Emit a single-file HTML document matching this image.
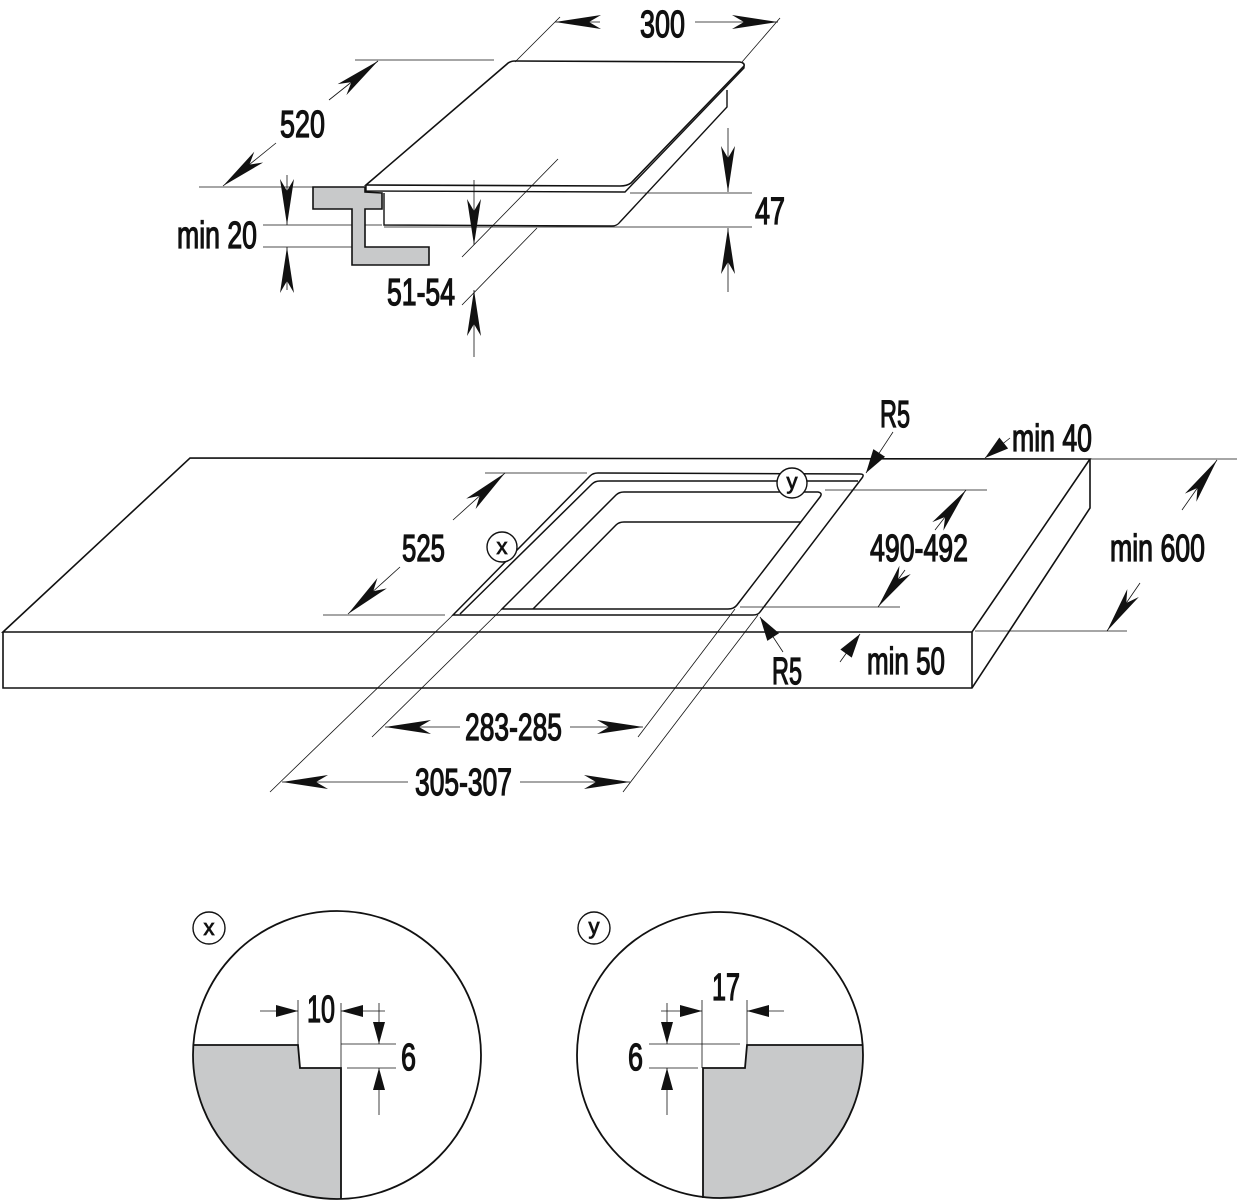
<!DOCTYPE html>
<html><head><meta charset="utf-8"><style>
html,body{margin:0;padding:0;background:#fff;}
svg{display:block;}
text{font-family:"Liberation Sans Narrow","Liberation Sans",sans-serif;fill:#111;stroke:#111;stroke-width:1.3;}
</style></head><body>
<svg width="1237" height="1200" viewBox="0 0 1237 1200" xmlns="http://www.w3.org/2000/svg">
<defs>
<marker id="a" markerUnits="userSpaceOnUse" markerWidth="60" markerHeight="24" viewBox="-50 -12 60 24" refX="0" refY="0" orient="auto">
<path d="M0,0 L-46,-7 L-34,0 L-46,7 Z" fill="#111"/>
</marker>
<marker id="m" markerUnits="userSpaceOnUse" markerWidth="40" markerHeight="24" viewBox="-30 -12 40 24" refX="0" refY="0" orient="auto">
<path d="M0,0 L-24,-7 L-24,7 Z" fill="#111"/>
</marker>
<marker id="s" markerUnits="userSpaceOnUse" markerWidth="40" markerHeight="20" viewBox="-30 -10 40 20" refX="0" refY="0" orient="auto">
<path d="M0,0 L-22,-6 L-22,6 Z" fill="#111"/>
</marker>
</defs>
<g fill="none" stroke="#111" stroke-width="1">
<path d="M366,185 L507,64 Q510,61 515,61 L740,62 Q745,63 744,66 L631,183 Q627,186 620,186 Z" stroke-width="1.6"/>
<path d="M366,185 L366,191 L625,192 L744,68 L744,66" stroke-width="1.4"/>
<path d="M384,193 L384,225 L612,226 Q617,226 620,222 L727,107 L727,90" stroke-width="1.4"/>
<line x1="515" y1="62" x2="560" y2="17" stroke-width="0.8"/>
<line x1="742" y1="62" x2="780" y2="18" stroke-width="0.8"/>
<line x1="355" y1="60" x2="494" y2="60" stroke-width="0.8"/>
<line x1="199" y1="187" x2="365" y2="187" stroke-width="0.8"/>
<line x1="630" y1="193" x2="752" y2="193" stroke-width="0.8"/>
<line x1="384" y1="227" x2="752" y2="227" stroke-width="0.8"/>
<line x1="263" y1="225" x2="382" y2="225" stroke-width="0.8"/>
<line x1="263" y1="247" x2="352" y2="247" stroke-width="0.8"/>
<line x1="462" y1="257" x2="558" y2="159" stroke-width="0.8"/>
<line x1="462" y1="305" x2="537" y2="228" stroke-width="0.8"/>
<path d="M313,187 L365,187 L365,192 L382,193 L382,209 L365,209 L365,247 L429,247 L429,265 L352,265 L352,209 L313,209 Z" fill="#c8c9ca" stroke-width="1.6"/>
<line x1="600" y1="22" x2="555" y2="22" marker-end="url(#a)" stroke-width="0.8"/>
<line x1="695" y1="22" x2="778" y2="22" marker-end="url(#a)" stroke-width="0.8"/>
<line x1="329" y1="100" x2="378" y2="61" marker-end="url(#a)" stroke-width="0.8"/>
<line x1="276" y1="143" x2="223" y2="186" marker-end="url(#a)" stroke-width="0.8"/>
<line x1="287" y1="175" x2="287" y2="225" marker-end="url(#a)" stroke-width="0.8"/>
<line x1="287" y1="290" x2="287" y2="247" marker-end="url(#a)" stroke-width="0.8"/>
<line x1="728" y1="128" x2="728" y2="192" marker-end="url(#a)" stroke-width="0.8"/>
<line x1="728" y1="292" x2="728" y2="228" marker-end="url(#a)" stroke-width="0.8"/>
<line x1="474" y1="180" x2="474" y2="245" marker-end="url(#a)" stroke-width="0.8"/>
<line x1="474" y1="357" x2="474" y2="290" marker-end="url(#a)" stroke-width="0.8"/>

<path d="M190,458 L1090,459 L972,632 L3,632 Z" stroke-width="1.6"/>
<path d="M3,632 L3,688 L972,688 L1090,508 L1090,459" stroke-width="1.6"/>
<line x1="972" y1="632" x2="972" y2="688" stroke-width="1.6"/>
<path d="M453,615 L590,476 Q593,473 598,473 L860,474 Q865,474 862,478 L760,612 Q758,615 753,615 Z" stroke-width="1.5"/>
<path d="M460,614 L592,484 Q595,481 600,481 L858,481" stroke-width="1.5"/>
<path d="M502,609 L616,495 Q619,492 624,492 L818,492 Q823,493 820,497 L737,605 Q734,609 728,609 Z" stroke-width="1.5"/>
<path d="M533,609 L616,525 Q619,522 624,522 L801,522" stroke-width="1.5"/>
<line x1="485" y1="473" x2="587" y2="473" stroke-width="0.8"/>
<line x1="323" y1="615" x2="445" y2="615" stroke-width="0.8"/>
<line x1="825" y1="490" x2="987" y2="490" stroke-width="0.8"/>
<line x1="740" y1="607" x2="900" y2="607" stroke-width="0.8"/>
<line x1="1090" y1="459" x2="1237" y2="459" stroke-width="0.8"/>
<line x1="975" y1="631" x2="1127" y2="631" stroke-width="0.8"/>
<line x1="453" y1="615" x2="270" y2="792" stroke-width="0.8"/>
<line x1="502" y1="609" x2="372" y2="737" stroke-width="0.8"/>
<line x1="735" y1="609" x2="638" y2="737" stroke-width="0.8"/>
<line x1="758" y1="615" x2="623" y2="792" stroke-width="0.8"/>
<line x1="453" y1="520" x2="505" y2="473" marker-end="url(#a)" stroke-width="0.8"/>
<line x1="400" y1="567" x2="348" y2="614" marker-end="url(#a)" stroke-width="0.8"/>
<line x1="935" y1="530" x2="966" y2="490" marker-end="url(#a)" stroke-width="0.8"/>
<line x1="905" y1="570" x2="878" y2="607" marker-end="url(#a)" stroke-width="0.8"/>
<line x1="1182" y1="510" x2="1217" y2="460" marker-end="url(#a)" stroke-width="0.8"/>
<line x1="1140" y1="583" x2="1107" y2="631" marker-end="url(#a)" stroke-width="0.8"/>
<line x1="1010" y1="438" x2="985" y2="458" marker-end="url(#m)" stroke-width="0.8"/>
<line x1="893" y1="432" x2="866" y2="473" marker-end="url(#m)" stroke-width="0.8"/>
<line x1="783" y1="652" x2="760" y2="617" marker-end="url(#m)" stroke-width="0.8"/>
<line x1="840" y1="662" x2="860" y2="634" marker-end="url(#m)" stroke-width="0.8"/>
<line x1="460" y1="727" x2="385" y2="727" marker-end="url(#a)" stroke-width="0.8"/>
<line x1="570" y1="727" x2="643" y2="727" marker-end="url(#a)" stroke-width="0.8"/>
<line x1="408" y1="782" x2="282" y2="782" marker-end="url(#a)" stroke-width="0.8"/>
<line x1="520" y1="782" x2="630" y2="782" marker-end="url(#a)" stroke-width="0.8"/>
<circle cx="502" cy="547" r="15" fill="#fff" stroke-width="1.4"/>
<circle cx="792" cy="483" r="15" fill="#fff" stroke-width="1.4"/>

<path d="M194,1045 L298,1045 L300,1068 L341,1068 L341,1199 A144,144 0 0 1 194,1045 Z" fill="#c8c9ca" stroke="none"/>
<circle cx="337" cy="1055" r="144" stroke-width="1.8"/>
<path d="M194,1045 L298,1045 L300,1068 L341,1068 L341,1199" stroke-width="1.8"/>
<line x1="298" y1="1000" x2="298" y2="1045" stroke-width="0.8"/>
<line x1="341" y1="1003" x2="341" y2="1068" stroke-width="0.8"/>
<line x1="341" y1="1044" x2="396" y2="1044" stroke-width="0.8"/>
<line x1="347" y1="1068" x2="396" y2="1068" stroke-width="0.8"/>
<line x1="260" y1="1011" x2="298" y2="1011" marker-end="url(#s)" stroke-width="0.8"/>
<line x1="385" y1="1011" x2="341" y2="1011" marker-end="url(#s)" stroke-width="0.8"/>
<line x1="379" y1="1003" x2="379" y2="1044" marker-end="url(#s)" stroke-width="0.8"/>
<line x1="379" y1="1115" x2="379" y2="1068" marker-end="url(#s)" stroke-width="0.8"/>
<circle cx="209" cy="928" r="16" stroke-width="1.4"/>

<path d="M747,1045 L863,1045 A143,143 0 0 1 703,1198 L703,1068 L745,1068 Z" fill="#c8c9ca" stroke="none"/>
<circle cx="720" cy="1055" r="143" stroke-width="1.8"/>
<path d="M863,1045 L747,1045 L745,1068 L703,1068 L703,1198" stroke-width="1.8"/>
<line x1="702" y1="1000" x2="702" y2="1068" stroke-width="0.8"/>
<line x1="747" y1="1000" x2="747" y2="1045" stroke-width="0.8"/>
<line x1="649" y1="1044" x2="740" y2="1044" stroke-width="0.8"/>
<line x1="649" y1="1068" x2="698" y2="1068" stroke-width="0.8"/>
<line x1="661" y1="1011" x2="702" y2="1011" marker-end="url(#s)" stroke-width="0.8"/>
<line x1="784" y1="1011" x2="747" y2="1011" marker-end="url(#s)" stroke-width="0.8"/>
<line x1="667" y1="1003" x2="667" y2="1044" marker-end="url(#s)" stroke-width="0.8"/>
<line x1="667" y1="1115" x2="667" y2="1068" marker-end="url(#s)" stroke-width="0.8"/>
<circle cx="594" cy="928" r="16" stroke-width="1.4"/>
</g>

<g font-size="38">
<text x="640" y="37" textLength="45" lengthAdjust="spacingAndGlyphs">300</text>
<text x="280" y="137" textLength="45" lengthAdjust="spacingAndGlyphs">520</text>
<text x="177" y="248" textLength="80" lengthAdjust="spacingAndGlyphs">min 20</text>
<text x="755" y="224" textLength="30" lengthAdjust="spacingAndGlyphs">47</text>
<text x="387" y="305" textLength="68" lengthAdjust="spacingAndGlyphs">51-54</text>
<text x="880" y="427" textLength="30" lengthAdjust="spacingAndGlyphs">R5</text>
<text x="1012" y="451" textLength="80" lengthAdjust="spacingAndGlyphs">min 40</text>
<text x="402" y="561" textLength="43" lengthAdjust="spacingAndGlyphs">525</text>
<text x="870" y="561" textLength="98" lengthAdjust="spacingAndGlyphs">490-492</text>
<text x="1110" y="561" textLength="95" lengthAdjust="spacingAndGlyphs">min 600</text>
<text x="772" y="684" textLength="30" lengthAdjust="spacingAndGlyphs">R5</text>
<text x="867" y="674" textLength="78" lengthAdjust="spacingAndGlyphs">min 50</text>
<text x="465" y="740" textLength="97" lengthAdjust="spacingAndGlyphs">283-285</text>
<text x="415" y="795" textLength="97" lengthAdjust="spacingAndGlyphs">305-307</text>
<text x="307" y="1022" textLength="28" lengthAdjust="spacingAndGlyphs">10</text>
<text x="401" y="1070" textLength="15" lengthAdjust="spacingAndGlyphs">6</text>
<text x="712" y="1000" textLength="28" lengthAdjust="spacingAndGlyphs">17</text>
<text x="628" y="1070" textLength="15" lengthAdjust="spacingAndGlyphs">6</text>
</g>
<g font-size="22" text-anchor="middle">
<text x="502" y="554" style="stroke-width:0.8">x</text>
<text x="792" y="489" style="stroke-width:0.8">y</text>
<text x="209" y="935" style="stroke-width:0.8">x</text>
<text x="594" y="934" style="stroke-width:0.8">y</text>
</g>
</svg>
</body></html>
